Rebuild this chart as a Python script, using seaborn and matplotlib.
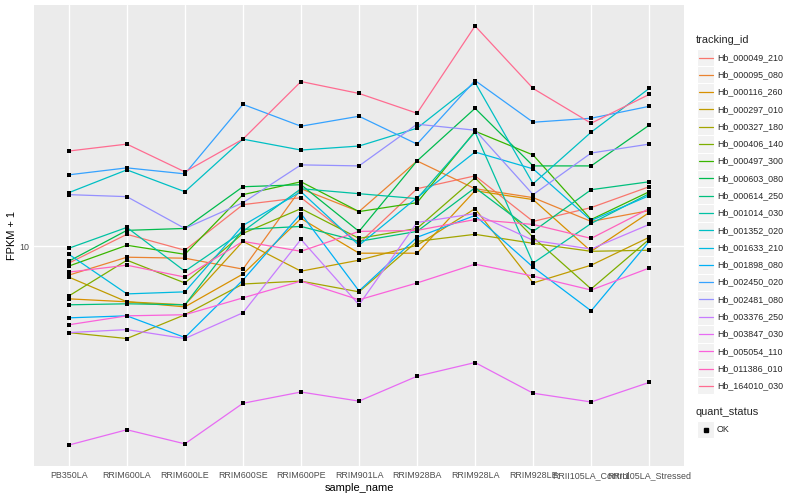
import numpy as np
import pandas as pd
import matplotlib
matplotlib.use("Agg")
import matplotlib.pyplot as plt
import seaborn as sns
from matplotlib.lines import Line2D
from matplotlib.patches import Rectangle
from matplotlib.ticker import NullLocator

# samples on the x axis, in plotting order
samples = ["PB350LA", "RRIM600LA", "RRIM600LE", "RRIM600SE", "RRIM600PE",
           "RRIM901LA", "RRIM928BA", "RRIM928LA", "RRIM928LE",
           "RRII105LA_Control", "RRII105LA_Stressed"]

# FPKM + 1 for each gene, one value per sample
Hb_000049_210 = [8.78, 10.97, 9.70, 13.80, 14.57, 10.23, 15.61, 17.24, 12.12, 13.49, 15.85]
Hb_000095_080 = [8.00, 9.19, 9.12, 8.38, 15.61, 13.08, 19.35, 15.61, 14.57, 12.12, 13.18]
Hb_000116_260 = [6.66, 6.51, 6.26, 8.07, 12.40, 9.48, 9.48, 15.37, 14.35, 9.62, 12.98]
Hb_000297_010 = [7.88, 6.51, 6.36, 10.39, 8.25, 8.98, 10.08, 13.38, 7.53, 8.64, 10.72]
Hb_000327_180 = [5.13, 4.90, 5.89, 7.47, 7.64, 7.03, 10.39, 10.97, 10.23, 9.62, 9.70]
Hb_000406_140 = [6.81, 8.98, 7.53, 11.05, 13.38, 10.63, 11.48, 16.98, 10.72, 7.19, 10.55]
Hb_000497_300 = [8.58, 10.08, 9.40, 14.91, 16.47, 13.08, 14.01, 24.35, 20.26, 12.30, 15.25]
Hb_000603_080 = [8.91, 11.31, 11.48, 15.85, 16.10, 11.22, 19.35, 29.07, 18.62, 18.62, 25.51]
Hb_000614_250 = [6.36, 6.41, 6.36, 11.39, 11.66, 10.39, 11.22, 15.73, 11.22, 15.49, 16.47]
Hb_001014_030 = [9.85, 11.57, 8.25, 11.22, 15.61, 15.02, 14.46, 24.17, 8.78, 11.93, 15.02]
Hb_001352_020 = [15.14, 18.06, 15.25, 22.90, 21.05, 21.71, 24.93, 35.49, 16.22, 24.17, 33.89]
Hb_001633_210 = [9.40, 6.92, 7.03, 11.75, 15.25, 10.08, 14.57, 20.73, 18.20, 12.21, 14.79]
Hb_001898_080 = [5.75, 5.84, 4.94, 7.70, 12.88, 7.08, 10.72, 12.69, 8.51, 6.07, 10.39]
Hb_002450_020 = [17.38, 18.34, 17.51, 29.97, 25.31, 27.34, 22.04, 36.04, 26.10, 26.92, 29.52]
Hb_002481_080 = [14.91, 14.68, 11.48, 14.01, 18.77, 18.62, 25.71, 24.54, 14.91, 20.57, 22.04]
Hb_003376_250 = [5.13, 5.25, 4.90, 5.98, 10.55, 6.36, 12.02, 12.88, 10.47, 9.79, 11.84]
Hb_003847_030 = [2.15, 2.42, 2.17, 2.97, 3.24, 3.02, 3.66, 4.07, 3.21, 3.00, 3.49]
Hb_005054_110 = [5.45, 5.84, 5.89, 6.71, 7.64, 6.61, 7.53, 8.71, 7.94, 7.13, 8.45]
Hb_011386_010 = [8.19, 8.64, 7.88, 10.39, 9.62, 11.22, 11.31, 12.30, 11.84, 10.63, 13.38]
Hb_164010_030 = [20.89, 22.04, 17.78, 22.90, 35.76, 32.61, 27.98, 54.96, 33.89, 25.90, 32.36]

tracking_ids = ["Hb_000049_210", "Hb_000095_080", "Hb_000116_260", "Hb_000297_010",
                "Hb_000327_180", "Hb_000406_140", "Hb_000497_300", "Hb_000603_080",
                "Hb_000614_250", "Hb_001014_030", "Hb_001352_020", "Hb_001633_210",
                "Hb_001898_080", "Hb_002450_020", "Hb_002481_080", "Hb_003376_250",
                "Hb_003847_030", "Hb_005054_110", "Hb_011386_010", "Hb_164010_030"]
gene_values = [Hb_000049_210, Hb_000095_080, Hb_000116_260, Hb_000297_010,
               Hb_000327_180, Hb_000406_140, Hb_000497_300, Hb_000603_080,
               Hb_000614_250, Hb_001014_030, Hb_001352_020, Hb_001633_210,
               Hb_001898_080, Hb_002450_020, Hb_002481_080, Hb_003376_250,
               Hb_003847_030, Hb_005054_110, Hb_011386_010, Hb_164010_030]

# ggplot default hue palette for 20 levels
palette = ["#F8766D", "#EA8331", "#D89000", "#C09B00", "#A3A500", "#7CAE00",
           "#39B600", "#00BB4E", "#00BF7D", "#00C1A3", "#00BFC4", "#00BAE0",
           "#00B0F6", "#35A2FF", "#9590FF", "#C77CFF", "#E76BF3", "#FA62DB",
           "#FF62BC", "#FF6C91"]

rows = []
for gid, vals in zip(tracking_ids, gene_values):
    for s, v in zip(samples, vals):
        rows.append({"tracking_id": gid, "sample_name": s, "fpkm": v, "quant_status": "OK"})
df = pd.DataFrame(rows)
df["sample_name"] = pd.Categorical(df["sample_name"], categories=samples, ordered=True)
df["x"] = df["sample_name"].cat.codes

sns.set_theme(style="darkgrid")
plt.rcParams["font.family"] = ["Liberation Sans", "DejaVu Sans"]

W, H = 800, 500
fig = plt.figure(figsize=(8, 5), dpi=100)
fig.patch.set_facecolor("white")
ax = fig.add_axes([34 / W, 34 / H, 650 / W, 461 / H])
ax.set_facecolor("#EBEBEB")

sns.lineplot(data=df, x="x", y="fpkm", hue="tracking_id", hue_order=tracking_ids,
             palette=palette, sort=False, estimator=None, legend=False,
             linewidth=0.9, ax=ax)
sns.scatterplot(data=df, x="x", y="fpkm", color="black", marker="s", s=9,
                linewidth=0, ax=ax, zorder=3, legend=False)

ax.set_yscale("log")
lo, hi = np.log10(df["fpkm"].min()), np.log10(df["fpkm"].max())
pad = 0.05 * (hi - lo)
ax.set_ylim(10 ** (lo - pad), 10 ** (hi + pad))
ax.set_xlim(-0.6, len(samples) - 0.4)
ax.set_xticks(range(len(samples)))
ax.set_xticklabels(samples)
ax.set_yticks([10])
ax.set_yticklabels(["10"])
ax.yaxis.set_minor_locator(NullLocator())

ax.grid(True, which="major", color="white", linewidth=1.0)
ax.set_axisbelow(True)
for sp in ax.spines.values():
    sp.set_visible(False)
ax.tick_params(axis="both", which="major", length=2.0, width=0.7, color="#333333",
               labelsize=6.4, labelcolor="#4D4D4D", pad=1.6)

ax.set_xlabel("sample_name", fontsize=7.9, color="black", va="center")
ax.xaxis.set_label_coords(0.5, -0.047)
ax.set_ylabel("FPKM + 1", fontsize=7.9, color="black", va="center", ha="center")
ax.yaxis.set_label_coords(-0.034, 0.5)

# legend drawn in figure pixel coordinates, ggplot style
def fx(px):
    return px / W

def fy(py):
    return 1 - py / H

key = 17.28
fig.text(fx(696), fy(40), "tracking_id", fontsize=7.9, va="center", ha="left")
y0 = 57.5
for i, (gid, col) in enumerate(zip(tracking_ids, palette)):
    yc = y0 + i * key
    fig.add_artist(Rectangle((fx(697), fy(yc + key / 2)), key / W, key / H,
                             transform=fig.transFigure, facecolor="#F2F2F2",
                             edgecolor="white", linewidth=0.8))
    fig.add_artist(Line2D([fx(698.5), fx(712.5)], [fy(yc), fy(yc)], color=col,
                          linewidth=0.9, transform=fig.transFigure))
    fig.text(fx(717), fy(yc), gid, fontsize=6.4, va="center", ha="left")

fig.text(fx(696), fy(412), "quant_status", fontsize=7.9, va="center", ha="left")
yc = 429.5
fig.add_artist(Rectangle((fx(697), fy(yc + key / 2)), key / W, key / H,
                         transform=fig.transFigure, facecolor="#F2F2F2",
                         edgecolor="white", linewidth=0.8))
fig.add_artist(Line2D([fx(705.6)], [fy(yc)], marker="s", markersize=2.6,
                      color="black", linestyle="none", transform=fig.transFigure))
fig.text(fx(717), fy(yc), "OK", fontsize=6.4, va="center", ha="left")

fig.savefig("out.png", dpi=100)
